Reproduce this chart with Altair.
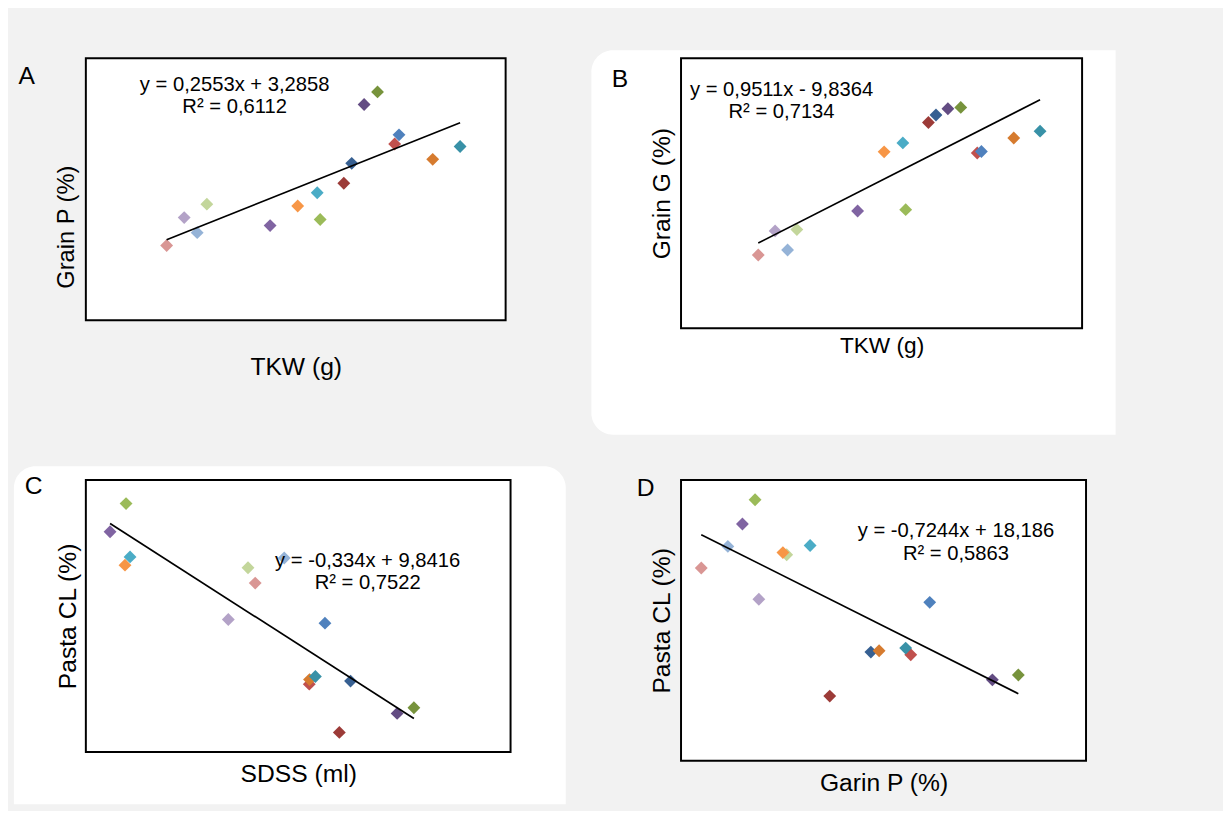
import altair as alt
import pandas as pd

# ---------------- data (16 genotypes, same colour in every panel) ----------------
genotypes = [f"G{i}" for i in range(1, 17)]
colors = ["#d99694", "#b3a2c7", "#95b3d7", "#c3d69b", "#8064a2", "#f79646", "#4bacc6", "#9bbb59",
          "#9c3b38", "#376092", "#634c83", "#77933c", "#c0504d", "#4f81bd", "#d67b2f", "#3891a7"]
tkw = [38.00, 38.89, 39.55, 40.04, 43.25, 44.65, 45.64, 45.79,
       46.99, 47.39, 48.02, 48.70, 49.57, 49.79, 51.50, 52.89]
grain_p = [12.79, 13.70, 13.21, 14.14, 13.44, 14.08, 14.51, 13.64,
           14.82, 15.47, 17.39, 17.80, 16.10, 16.40, 15.60, 16.02]
grain_g = [25.14, 27.51, 25.63, 27.64, 29.48, 35.31, 36.19, 29.61,
           38.20, 38.94, 39.56, 39.69, 35.19, 35.34, 36.67, 37.35]
sdss = [6.98, 5.97, 8.07, 6.71, 1.53, 2.09, 2.28, 2.13,
        10.14, 10.56, 12.31, 12.94, 9.01, 9.60, 9.02, 9.24]
pasta_cl = [8.16, 7.45, 8.65, 8.46, 9.16, 8.51, 8.67, 9.71,
            5.25, 6.25, 5.62, 5.73, 6.19, 7.38, 6.28, 6.34]

eq_a = ["y = 0,2553x + 3,2858", "R² = 0,6112"]
eq_b = ["y = 0,9511x - 9,8364", "R² = 0,7134"]
eq_c = ["y = -0,334x + 9,8416", "R² = 0,7522"]
eq_d = ["y = -0,7244x + 18,186", "R² = 0,5863"]
letters = ["A", "B", "C", "D"]

df = pd.DataFrame({"genotype": genotypes, "TKW": tkw, "GrainP": grain_p,
                   "GrainG": grain_g, "SDSS": sdss, "PastaCL": pasta_cl})

FONT = "Liberation Sans"


def axis(title, size, pad, title_y=None):
    kw = dict(title=title, labels=False, ticks=False, domain=False, grid=False,
              titleFont=FONT, titleFontSize=size, titleFontWeight="normal",
              titleColor="black", titlePadding=pad)
    if title_y is not None:
        kw["titleY"] = title_y
    return alt.Axis(**kw)


def text_layer(label, px, py, size):
    return alt.Chart(pd.DataFrame({"label": [label]})).mark_text(
        align="center", baseline="middle", font=FONT, fontSize=size, color="black"
    ).encode(x=alt.value(px), y=alt.value(py), text="label:N")


def panel(xf, yf, xdom, ydom, w, h, xaxis, yaxis, eq, eq_xy, letter, letter_xy, under=()):
    x = alt.X(f"{xf}:Q", scale=alt.Scale(domain=xdom, nice=False, zero=False), axis=xaxis)
    y = alt.Y(f"{yf}:Q", scale=alt.Scale(domain=ydom, nice=False, zero=False), axis=yaxis)
    pts = alt.Chart(df).mark_point(shape="diamond", filled=True, size=170, opacity=1).encode(
        x=x, y=y,
        color=alt.Color("genotype:N", scale=alt.Scale(domain=genotypes, range=colors), legend=None))
    line = alt.Chart(df).transform_regression(xf, yf).mark_line(
        color="black", strokeWidth=1.7).encode(x=x, y=y)
    texts = [text_layer(eq[0], eq_xy[0], eq_xy[1], 20.5),
             text_layer(eq[1], eq_xy[0], eq_xy[1] + 23, 20.5),
             text_layer(letter, letter_xy[0], letter_xy[1], 25)]
    return alt.layer(*under, pts, line, *texts).properties(width=w, height=h)


# white rounded panels behind B and C (drawn in the first panel so they sit underneath)
bg_b = alt.Chart(pd.DataFrame({"k": [0]})).mark_rect(
    color="white", cornerRadiusTopLeft=22, cornerRadiusBottomLeft=22).encode(
    x=alt.value(513), x2=alt.value(1045), y=alt.value(-8), y2=alt.value(382))
bg_c = alt.Chart(pd.DataFrame({"k": [0]})).mark_rect(
    color="white", cornerRadiusTopLeft=22, cornerRadiusTopRight=22).encode(
    x=alt.value(-73), x2=alt.value(487), y=alt.value(414), y2=alt.value(757))

pa = panel("TKW", "GrainP", [33.9, 55.2], [10.35, 18.9], 426, 266,
           axis("TKW (g)", 25, 35), axis("Grain P (%)", 24, 8, 171),
           eq_a, (151, 27), letters[0], (-60, 18), under=(bg_b, bg_c))
pb = panel("TKW", "GrainG", [33.92, 55.11], [17.92, 44.54], 407, 274,
           axis("TKW (g)", 23, 7), axis("Grain G  (%)", 25, 7),
           eq_b, (102, 32), letters[1], (-62, 21))
pc = panel("SDSS", "PastaCL", [0.62, 16.57], [4.87, 10.17], 431, 276,
           axis("SDSS (ml)", 25, 10), axis("Pasta CL (%)", 25, 6),
           eq_c, (286, 82), letters[2], (-53, 6))
pd_ = panel("GrainP", "PastaCL", [12.47, 18.87], [3.78, 10.16], 411, 285,
            axis("Garin P (%)", 25, 10), axis("Pasta CL (%)", 25, 7),
            eq_d, (279, 52), letters[3], (-36, 8))

chart = alt.concat(
    pa, pb, pc, pd_, columns=2,
    spacing={"row": 143, "column": 173},
    bounds="flush",
    align={"row": "all", "column": "none"},
).properties(
    padding={"left": 5, "top": 36, "right": 108, "bottom": 0}
).configure(
    background="#f2f2f2"
).configure_view(
    fill="white", stroke="black", strokeWidth=2
)

chart.save("out.html", embed_options={"renderer": "svg", "actions": False})
